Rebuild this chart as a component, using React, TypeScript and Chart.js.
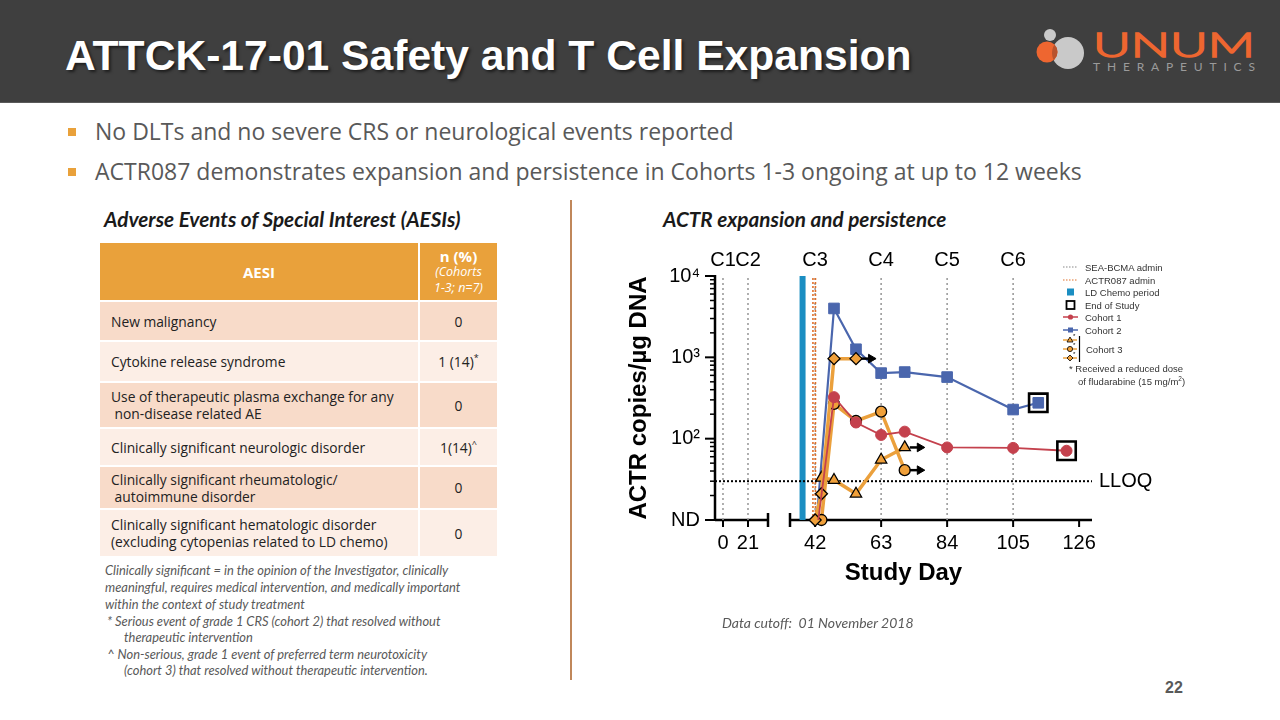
import React, { useEffect, useRef } from 'react';
import { Chart, registerables, LinearScale } from 'chart.js';

// ---------------- data ----------------
const X_TICKS = [0, 21, 42, 63, 84, 105, 126];
const CYCLE_LABELS = ['C1', 'C2', 'C3', 'C4', 'C5', 'C6'];
const CYCLE_DAYS = [0, 21, 42, 63, 84, 105];
const ACTR_ADMIN_DAYS = [41.3, 42.1];
const LD_CHEMO_DAY = 38;
const ND_VALUE = 10;
const LLOQ_VALUE = 30;
const Y_MAX = 10000;
const Y_MAJOR_TICKS = [10, 100, 1000, 10000];
const Y_TICK_LABELS = ['ND', '10²', '10³', '10⁴'];

const COHORT1_DAYS = [43, 48, 55, 63, 70.5, 84, 105, 122];
const COHORT1_VALUES = [10, 324, 158, 111, 122, 78, 77, 71];
const COHORT2_DAYS = [42.5, 48, 55, 63, 70.5, 84, 105, 113];
const COHORT2_VALUES = [10, 3990, 1257, 640, 659, 572, 228, 276];
const C3_TRI_DAYS = [44, 48, 55, 63, 70.5];
const C3_TRI_VALUES = [33, 31, 21, 55, 78];
const C3_CIRC_DAYS = [44, 48, 55, 63, 70.5];
const C3_CIRC_VALUES = [10, 268, 165, 215, 41];
const C3_DIAM_DAYS = [42, 44, 48, 55];
const C3_DIAM_VALUES = [10, 21, 964, 964];
const END_OF_STUDY_DAYS = [122, 113];
const END_OF_STUDY_VALUES = [71, 276];
const ONGOING_DAYS = [55, 70.5, 70.5];
const ONGOING_VALUES = [964, 78, 41];

// ---------------- broken x axis ----------------
const X_MIN = -6.7;
const X_MAX = 130.1;
const X_SEG_A_END = 37.8;
const X_SEG_B_START = 34;
const X_SPLIT = 30;
const X_FRAC_A_END = 53 / 377;
const X_FRAC_B_START = 75 / 377;
const ARROW_GAP = 1.6;
const ARROW_END = 4.8;

class BrokenLinearScale extends LinearScale {
  static id = 'brokenLinear';
  static defaults = LinearScale.defaults;
  getPixelForValue(value: any) {
    const v = +value;
    const s: any = this;
    let f: number;
    if (v <= X_SPLIT) f = ((v - X_MIN) / (X_SEG_A_END - X_MIN)) * X_FRAC_A_END;
    else f = X_FRAC_B_START + ((v - X_SEG_B_START) / (X_MAX - X_SEG_B_START)) * (1 - X_FRAC_B_START);
    return s.left + f * s.width;
  }
  getValueForPixel(pixel: number) {
    const s: any = this;
    const f = (pixel - s.left) / s.width;
    if (f <= X_FRAC_A_END) return X_MIN + (f / X_FRAC_A_END) * (X_SEG_A_END - X_MIN);
    return X_SEG_B_START + ((f - X_FRAC_B_START) / (1 - X_FRAC_B_START)) * (X_MAX - X_SEG_B_START);
  }
}

Chart.register(...registerables, BrokenLinearScale as any);

const CHART_FONT = '"Liberation Sans", Arial, Helvetica, sans-serif';
const RED = '#C4414D';
const BLUE = '#4A66AD';
const ORANGE = '#F0A03A';
const ORANGE_LINE = '#EBA03C';

const zip = (xs: number[], ys: number[]) => xs.map((x, i) => ({ x, y: ys[i] }));
const vlines = (days: number[]) =>
  days.flatMap((d) => [{ x: d, y: ND_VALUE }, { x: d, y: Y_MAX }, { x: d, y: null as any }]);

const decorPlugin = {
  id: 'decor',
  beforeDatasetsDraw(chart: any) {
    const { ctx, chartArea: ca, scales } = chart;
    const x = scales.x;
    const y = scales.y;
    ctx.save();
    ctx.strokeStyle = '#000';
    ctx.lineWidth = 2.5;
    ctx.lineCap = 'butt';
    ctx.beginPath();
    ctx.moveTo(ca.left, ca.top - 1);
    ctx.lineTo(ca.left, ca.bottom);
    ctx.stroke();
    ctx.lineWidth = 2;
    for (const v of Y_MAJOR_TICKS) {
      const py = y.getPixelForValue(v);
      ctx.beginPath();
      ctx.moveTo(ca.left - 10, py);
      ctx.lineTo(ca.left, py);
      ctx.stroke();
    }
    ctx.lineWidth = 1.5;
    for (let i = 0; i < Y_MAJOR_TICKS.length - 1; i++) {
      for (let m = 2; m <= 9; m++) {
        const py = y.getPixelForValue(Y_MAJOR_TICKS[i] * m);
        ctx.beginPath();
        ctx.moveTo(ca.left - 5, py);
        ctx.lineTo(ca.left, py);
        ctx.stroke();
      }
    }
    const aEnd = x.left + X_FRAC_A_END * x.width;
    const bStart = x.left + X_FRAC_B_START * x.width;
    ctx.lineWidth = 2.5;
    ctx.beginPath();
    ctx.moveTo(ca.left, ca.bottom);
    ctx.lineTo(aEnd, ca.bottom);
    ctx.moveTo(bStart, ca.bottom);
    ctx.lineTo(ca.right, ca.bottom);
    ctx.moveTo(aEnd, ca.bottom - 7);
    ctx.lineTo(aEnd, ca.bottom + 7);
    ctx.moveTo(bStart, ca.bottom - 7);
    ctx.lineTo(bStart, ca.bottom + 7);
    ctx.stroke();
    ctx.lineWidth = 2;
    for (const t of X_TICKS) {
      const px = x.getPixelForValue(t);
      ctx.beginPath();
      ctx.moveTo(px, ca.bottom);
      ctx.lineTo(px, ca.bottom + 7);
      ctx.stroke();
    }
    ctx.fillStyle = '#000';
    ctx.font = `20px ${CHART_FONT}`;
    ctx.textAlign = 'center';
    ctx.textBaseline = 'middle';
    CYCLE_LABELS.forEach((lab, i) => {
      ctx.fillText(lab, x.getPixelForValue(CYCLE_DAYS[i]), ca.top - 16);
    });
    ctx.textAlign = 'left';
    ctx.fillText('LLOQ', ca.right + 7, y.getPixelForValue(LLOQ_VALUE));
    ctx.restore();
  },
};

function ChartPanel() {
  const ref = useRef<HTMLCanvasElement | null>(null);
  useEffect(() => {
    const lineBase = { clip: false as any, spanGaps: false, tension: 0 };
    const datasets: any[] = [
      {
        ...lineBase,
        label: 'SEA-BCMA admin',
        data: vlines(CYCLE_DAYS),
        borderColor: '#9c9c9c',
        borderWidth: 1.6,
        borderDash: [2, 3],
        pointRadius: 0,
        order: 20,
      },
      {
        ...lineBase,
        label: 'LD Chemo period',
        data: vlines([LD_CHEMO_DAY]),
        borderColor: '#1B8EC2',
        borderWidth: 6,
        pointRadius: 0,
        order: 19,
      },
      {
        ...lineBase,
        label: 'ACTR087 admin',
        data: vlines(ACTR_ADMIN_DAYS),
        borderColor: '#E0702A',
        borderWidth: 1.6,
        borderDash: [2, 2],
        pointRadius: 0,
        order: 18,
      },
      {
        ...lineBase,
        label: 'LLOQ',
        data: [{ x: X_MIN, y: LLOQ_VALUE }, { x: X_MAX, y: LLOQ_VALUE }],
        borderColor: '#000',
        borderWidth: 2,
        borderDash: [2, 2],
        pointRadius: 0,
        order: 17,
      },
      {
        ...lineBase,
        label: 'Cohort 2',
        data: zip(COHORT2_DAYS, COHORT2_VALUES),
        borderColor: BLUE,
        borderWidth: 2.2,
        pointStyle: 'rect',
        pointRadius: COHORT2_DAYS.map((_, i) => (i === 0 ? 0 : 7.5)),
        pointBackgroundColor: BLUE,
        pointBorderColor: BLUE,
        pointBorderWidth: 1,
        order: 9,
      },
      {
        ...lineBase,
        label: 'Cohort 3 (triangle)',
        data: zip(C3_TRI_DAYS, C3_TRI_VALUES),
        borderColor: ORANGE_LINE,
        borderWidth: 3.5,
        pointStyle: 'triangle',
        pointRadius: 6.5,
        pointBackgroundColor: ORANGE,
        pointBorderColor: '#000',
        pointBorderWidth: 1.3,
        order: 8,
      },
      {
        ...lineBase,
        label: 'Cohort 3 (circle)',
        data: zip(C3_CIRC_DAYS, C3_CIRC_VALUES),
        borderColor: ORANGE_LINE,
        borderWidth: 3.5,
        pointStyle: 'circle',
        pointRadius: 5.5,
        pointBackgroundColor: ORANGE,
        pointBorderColor: '#000',
        pointBorderWidth: 1.3,
        order: 7,
      },
      {
        ...lineBase,
        label: 'Cohort 3 (diamond)',
        data: zip(C3_DIAM_DAYS, C3_DIAM_VALUES),
        borderColor: ORANGE_LINE,
        borderWidth: 3.5,
        pointStyle: 'rectRot',
        pointRadius: 6,
        pointBackgroundColor: ORANGE,
        pointBorderColor: '#000',
        pointBorderWidth: 1.3,
        order: 6,
      },
      {
        ...lineBase,
        label: 'Cohort 1',
        data: zip(COHORT1_DAYS, COHORT1_VALUES),
        borderColor: RED,
        borderWidth: 1.8,
        pointStyle: 'circle',
        pointRadius: COHORT1_DAYS.map((_, i) => (i === 0 ? 0 : 5.5)),
        pointBackgroundColor: RED,
        pointBorderColor: RED,
        pointBorderWidth: 1,
        order: 5,
      },
      {
        ...lineBase,
        label: 'End of Study',
        data: zip(END_OF_STUDY_DAYS, END_OF_STUDY_VALUES),
        showLine: false,
        pointStyle: 'rect',
        pointRadius: 13,
        pointBackgroundColor: 'rgba(0,0,0,0)',
        pointBorderColor: '#000',
        pointBorderWidth: 2.6,
        order: 2,
      },
      ...ONGOING_DAYS.map((d, i) => ({
        ...lineBase,
        label: 'ongoing',
        data: [
          { x: d + ARROW_GAP, y: ONGOING_VALUES[i] },
          { x: d + ARROW_END, y: ONGOING_VALUES[i] },
        ],
        borderColor: '#000',
        borderWidth: 2.5,
        pointStyle: 'triangle',
        pointRotation: 90,
        pointRadius: [0, 5],
        pointBackgroundColor: '#000',
        pointBorderColor: '#000',
        pointBorderWidth: 1,
        order: 1,
      })),
    ];

    const chart = new Chart(ref.current as HTMLCanvasElement, {
      type: 'line',
      data: { datasets },
      options: {
        responsive: false,
        animation: false,
        events: [],
        layout: { padding: { left: 0, top: 46, right: 108, bottom: 0 } },
        plugins: { legend: { display: false }, tooltip: { enabled: false } },
        scales: {
          x: {
            type: 'brokenLinear' as any,
            min: X_MIN,
            max: X_MAX,
            afterBuildTicks: (s: any) => {
              s.ticks = X_TICKS.map((v) => ({ value: v }));
            },
            afterFit: (s: any) => {
              s.height = 110;
            },
            grid: { display: false },
            border: { display: false },
            ticks: {
              autoSkip: false,
              maxRotation: 0,
              padding: 3,
              color: '#000',
              font: { family: CHART_FONT, size: 20 },
              callback: (v: any) => String(v),
            },
            title: {
              display: true,
              text: 'Study Day',
              color: '#000',
              font: { family: CHART_FONT, size: 24, weight: 'bold' },
              padding: { top: 0, bottom: 42 },
            },
          } as any,
          y: {
            type: 'logarithmic',
            min: ND_VALUE,
            max: Y_MAX,
            afterBuildTicks: (s: any) => {
              s.ticks = Y_MAJOR_TICKS.map((v) => ({ value: v }));
            },
            afterFit: (s: any) => {
              s.width = 115;
            },
            grid: { display: false },
            border: { display: false },
            ticks: {
              autoSkip: false,
              padding: 7,
              color: '#000',
              font: { family: CHART_FONT, size: 20 },
              callback: (v: any) => {
                const i = Y_MAJOR_TICKS.indexOf(Number(v));
                return i >= 0 ? Y_TICK_LABELS[i] : '';
              },
            },
            title: {
              display: true,
              text: 'ACTR copies/µg DNA',
              color: '#000',
              font: { family: CHART_FONT, size: 24, weight: 'bold' },
              padding: { top: 25, bottom: 0 },
            },
          } as any,
        },
      },
      plugins: [decorPlugin],
    } as any);
    return () => chart.destroy();
  }, []);
  return (
    <canvas
      ref={ref}
      width={600}
      height={400}
      style={{ position: 'absolute', left: 600, top: 230, width: 600, height: 400 }}
    />
  );
}

function Legend() {
  const t = { fontFamily: CHART_FONT, fontSize: 9.5, fill: '#333', dominantBaseline: 'central' as any };
  return (
    <svg
      width={140}
      height={135}
      style={{ position: 'absolute', left: 1055, top: 258, zIndex: 2 }}
    >
      <line x1={8} x2={23} y1={9} y2={9} stroke="#888" strokeWidth={1.2} strokeDasharray="1.5 1.5" />
      <text x={30} y={9} {...t}>SEA-BCMA admin</text>
      <line x1={8} x2={23} y1={22} y2={22} stroke="#E0702A" strokeWidth={1.2} strokeDasharray="1.5 1.5" />
      <text x={30} y={22} {...t}>ACTR087 admin</text>
      <rect x={12} y={30.5} width={7} height={7} fill="#1B8EC2" />
      <text x={30} y={34} {...t}>LD Chemo period</text>
      <rect x={11.5} y={43} width={8} height={8} fill="none" stroke="#000" strokeWidth={1.8} />
      <text x={30} y={47} {...t}>End of Study</text>
      <line x1={8} x2={23} y1={59} y2={59} stroke={RED} strokeWidth={1.5} />
      <circle cx={15.5} cy={59} r={2.6} fill={RED} />
      <text x={30} y={59} {...t}>Cohort 1</text>
      <line x1={8} x2={23} y1={72} y2={72} stroke={BLUE} strokeWidth={1.5} />
      <rect x={13} y={69.5} width={5} height={5} fill={BLUE} />
      <text x={30} y={72} {...t}>Cohort 2</text>
      {[82, 91, 100].map((cy, i) => (
        <g key={cy}>
          <line x1={8} x2={22} y1={cy} y2={cy} stroke={ORANGE_LINE} strokeWidth={1.5} />
          {i === 0 && <polygon points={`15,${cy - 3} 18,${cy + 2} 12,${cy + 2}`} fill={ORANGE} stroke="#000" strokeWidth={0.8} />}
          {i === 1 && <circle cx={15} cy={cy} r={2.6} fill={ORANGE} stroke="#000" strokeWidth={0.8} />}
          {i === 2 && <polygon points={`15,${cy - 3} 18,${cy} 15,${cy + 3} 12,${cy}`} fill={ORANGE} stroke="#000" strokeWidth={0.8} />}
          <text x={18} y={cy - 4} fontSize={6} fontFamily={CHART_FONT} fill="#000" dominantBaseline="central">*</text>
        </g>
      ))}
      <line x1={24.5} x2={24.5} y1={78} y2={104} stroke="#000" strokeWidth={1.2} />
      <text x={31} y={91} {...t}>Cohort 3</text>
      <text x={14} y={110} {...t}>* Received a reduced dose</text>
      <text x={23} y={123} {...t}>
        of fludarabine (15 mg/m<tspan dy={-3} fontSize={6.5}>2</tspan><tspan dy={3}>)</tspan>
      </text>
    </svg>
  );
}

const AESI_ROWS = [
  { label: ['New malignancy'], value: '0', sup: '' },
  { label: ['Cytokine release syndrome'], value: '1 (14)', sup: '*' },
  { label: ['Use of therapeutic plasma exchange for any', ' non-disease related AE'], value: '0', sup: '' },
  { label: ['Clinically significant neurologic disorder'], value: '1(14)', sup: '^' },
  { label: ['Clinically significant rheumatologic/', ' autoimmune disorder'], value: '0', sup: '' },
  { label: ['Clinically significant hematologic disorder', '(excluding cytopenias related to LD chemo)'], value: '0', sup: '' },
];
const ROW_TOPS = [302, 342, 383, 429, 467, 510];
const ROW_HEIGHTS = [38, 39, 44, 36, 41, 46];
const ROW_COLORS = ['#F8DBC9', '#FCEEE6'];

const FOOTNOTES = [
  { x: 105, y: 570, text: 'Clinically significant = in the opinion of the Investigator, clinically' },
  { x: 105, y: 587, text: 'meaningful, requires medical intervention, and medically important' },
  { x: 105, y: 604, text: 'within the context of study treatment' },
  { x: 107, y: 621, text: '* Serious event of grade 1 CRS (cohort 2) that resolved without' },
  { x: 124, y: 637, text: 'therapeutic intervention' },
  { x: 107, y: 654, text: '^ Non-serious, grade 1 event of preferred term neurotoxicity' },
  { x: 124, y: 670, text: '(cohort 3) that resolved without therapeutic intervention.' },
];

const BODY_FONT = '"Open Sans", "Noto Sans", sans-serif';
const NOTE_FONT = 'Lato, "Open Sans", sans-serif';

function Table() {
  const cellText = { fontFamily: BODY_FONT, fontSize: 13.8, color: '#222', lineHeight: '17px' };
  return (
    <>
      <div style={{ position: 'absolute', left: 100, top: 243, width: 318, height: 57, background: '#E9A13B', display: 'flex', alignItems: 'center', justifyContent: 'center', fontFamily: BODY_FONT, fontWeight: 700, fontSize: 15, color: '#fff' }}>AESI</div>
      <div style={{ position: 'absolute', left: 420, top: 243, width: 77, height: 57, background: '#E9A13B', display: 'flex', flexDirection: 'column', alignItems: 'center', justifyContent: 'center', fontFamily: BODY_FONT, color: '#fff', lineHeight: '16px' }}>
        <div style={{ fontWeight: 700, fontSize: 15 }}>n (%)</div>
        <div style={{ fontStyle: 'italic', fontSize: 12.5 }}>(Cohorts</div>
        <div style={{ fontStyle: 'italic', fontSize: 12.5 }}>1-3; n=7)</div>
      </div>
      {AESI_ROWS.map((r, i) => (
        <React.Fragment key={i}>
          <div style={{ position: 'absolute', left: 100, top: ROW_TOPS[i], width: 318, height: ROW_HEIGHTS[i], background: ROW_COLORS[i % 2], display: 'flex', flexDirection: 'column', justifyContent: 'center', paddingLeft: 11, boxSizing: 'border-box', whiteSpace: 'pre', ...cellText }}>
            {r.label.map((l, j) => (
              <div key={j}>{l}</div>
            ))}
          </div>
          <div style={{ position: 'absolute', left: 420, top: ROW_TOPS[i], width: 77, height: ROW_HEIGHTS[i], background: ROW_COLORS[i % 2], display: 'flex', alignItems: 'center', justifyContent: 'center', ...cellText }}>
            <span>
              {r.value}
              {r.sup && <sup style={{ fontSize: 9, verticalAlign: 'top', position: 'relative', top: -4 }}>{r.sup}</sup>}
            </span>
          </div>
        </React.Fragment>
      ))}
      {FOOTNOTES.map((f, i) => (
        <div key={i} style={{ position: 'absolute', left: f.x, top: f.y - 9, height: 18, lineHeight: '18px', fontFamily: NOTE_FONT, fontStyle: 'italic', fontSize: 12.9, color: '#595959', whiteSpace: 'nowrap' }}>{f.text}</div>
      ))}
    </>
  );
}

function Logo() {
  return (
    <svg width={240} height={70} style={{ position: 'absolute', left: 1030, top: 18 }}>
      <defs>
        <clipPath id="bigc">
          <circle cx={38} cy={35} r={16} />
        </clipPath>
      </defs>
      <circle cx={20} cy={17} r={6} fill="#C9C9C9" />
      <circle cx={38} cy={35} r={16} fill="#C9C9C9" />
      <circle cx={17} cy={34} r={10.5} fill="#EE6630" />
      <circle cx={17} cy={34} r={10.5} fill="#B8532E" clipPath="url(#bigc)" />
      <text x={63} y={39} fontFamily="Lato, sans-serif" fontWeight={300} fontSize={34} fill="#EE6630" stroke="#EE6630" strokeWidth={1.6} textLength={162} lengthAdjust="spacingAndGlyphs">UNUM</text>
      <text x={63} y={53} fontFamily="Lato, sans-serif" fontSize={12} fill="#9B9B9B" textLength={162} lengthAdjust="spacing">THERAPEUTICS</text>
    </svg>
  );
}

export default function App() {
  useEffect(() => {
    document.body.style.margin = '0';
    document.body.style.overflow = 'hidden';
  }, []);
  const bullet = (y: number, text: string) => (
    <>
      <div style={{ position: 'absolute', left: 68, top: y - 4, width: 8, height: 8, background: '#E9A13B' }} />
      <div style={{ position: 'absolute', left: 95, top: y - 16, height: 30, lineHeight: '30px', fontFamily: BODY_FONT, fontSize: 23, color: '#595959', whiteSpace: 'nowrap' }}>{text}</div>
    </>
  );
  return (
    <div style={{ position: 'absolute', left: 0, top: 0, width: 1280, height: 720, background: '#fff', overflow: 'hidden' }}>
      <div style={{ position: 'absolute', left: 0, top: 0, width: 1280, height: 103, background: '#3F3F3F', borderBottom: '1px solid #5a5a5a', boxSizing: 'border-box' }} />
      <div style={{ position: 'absolute', left: 65, top: 33, fontFamily: CHART_FONT, fontWeight: 700, fontSize: 42.6, lineHeight: '44px', color: '#fff', whiteSpace: 'nowrap', textShadow: '2px 2px 3px rgba(0,0,0,0.55)' }}>
        ATTCK-17-01 Safety and T Cell Expansion
      </div>
      <Logo />
      {bullet(132, 'No DLTs and no severe CRS or neurological events reported')}
      {bullet(172, 'ACTR087 demonstrates expansion and persistence in Cohorts 1-3 ongoing at up to 12 weeks')}
      <div style={{ position: 'absolute', left: 104, top: 205, lineHeight: '28px', fontFamily: NOTE_FONT, fontWeight: 700, fontStyle: 'italic', fontSize: 20.7, color: '#1a1a1a', whiteSpace: 'nowrap' }}>Adverse Events of Special Interest (AESIs)</div>
      <div style={{ position: 'absolute', left: 663, top: 205, lineHeight: '28px', fontFamily: NOTE_FONT, fontWeight: 700, fontStyle: 'italic', fontSize: 20.7, color: '#1a1a1a', whiteSpace: 'nowrap' }}>ACTR expansion and persistence</div>
      <div style={{ position: 'absolute', left: 570, top: 200, width: 1.5, height: 480, background: '#C0875A' }} />
      <Table />
      <ChartPanel />
      <Legend />
      <div style={{ position: 'absolute', left: 722, top: 614, lineHeight: '18px', fontFamily: NOTE_FONT, fontStyle: 'italic', fontSize: 14, color: '#595959', whiteSpace: 'pre' }}>Data cutoff:  01 November 2018</div>
      <div style={{ position: 'absolute', left: 1165, top: 679, lineHeight: '18px', fontFamily: CHART_FONT, fontWeight: 700, fontSize: 16, color: '#595959' }}>22</div>
    </div>
  );
}
